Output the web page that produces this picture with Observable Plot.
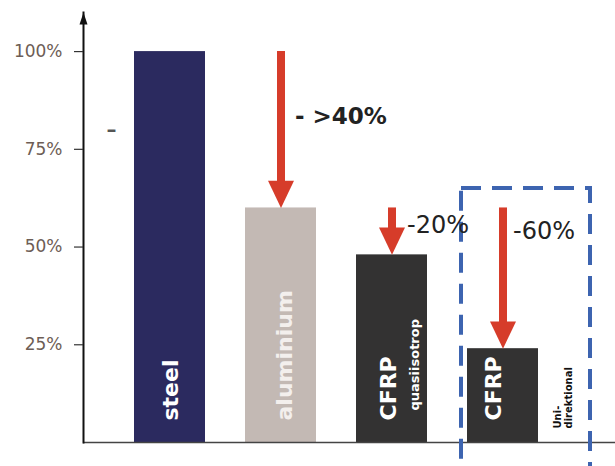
<!DOCTYPE html>
<html>
<head>
<meta charset="utf-8">
<script src="https://cdn.jsdelivr.net/npm/d3@7"></script>
<script src="https://cdn.jsdelivr.net/npm/@observablehq/plot@0.6"></script>
<style>
  html, body { margin: 0; padding: 0; background: #fff; }
  #chart svg { display: block; overflow: visible; }
</style>
</head>
<body>
<div id="chart"></div>
<script>
// ---- data ----
const categories = ["steel", "aluminium", "quasi", "uni"];
const values = [100, 60, 48, 24];
const yTicks = [25, 50, 75, 100];
const tickLabels = ["25%", "50%", "75%", "100%"];
const refLevels = [100, 60];
const refStart = ["steel", "aluminium"];
const arrowCats = ["aluminium", "quasi", "uni"];
const arrowFrom = [100, 60, 60];
const arrowTo = [60, 48, 24];
const arrowLabels = ["- >40%", "-20%", "-60%"];
const barLabels = ["steel", "aluminium", "CFRP", "CFRP"];
const subLabels = ["", "", "quasiisotrop", "Uni-\ndirektional"];
const highlightCat = "uni";
const highlightTop = 65;
const highlightBottom = -8;
const axisTop = 110;

// ---- tables built from arrays ----
const bars = categories.map((c, i) => ({cat: c, value: values[i], label: barLabels[i], sub: subLabels[i]}));
const arrows = arrowCats.map((c, i) => ({cat: c, from: arrowFrom[i], to: arrowTo[i], label: arrowLabels[i]}));
const refs = refLevels.map((v, i) => ({y: v, start: refStart[i]}));

const fills = {steel: "#2b2a5f", aluminium: "#c3b9b4", quasi: "#333232", uni: "#333232"};
const labelColors = {steel: "#ffffff", aluminium: "#f3efed", quasi: "#ffffff", uni: "#ffffff"};
const labelDx = {steel: 1, aluminium: 4, quasi: -3, uni: -9};
const RED = "#d63c2a";
const BLUE = "#3d64b0";
const FONT = "DejaVu Sans";

// custom symbols: tip at the origin
const headDown = {draw(ctx, size) {
  const r = Math.sqrt(size / Math.PI);
  ctx.moveTo(-r, -r * 2.1); ctx.lineTo(r, -r * 2.1); ctx.lineTo(0, 0); ctx.closePath();
}};
const headUp = {draw(ctx, size) {
  const r = Math.sqrt(size / Math.PI);
  ctx.moveTo(0, 0); ctx.lineTo(-r, r * 3); ctx.lineTo(r, r * 3); ctx.closePath();
}};

const barLabelMarks = bars.map(b => Plot.text([b], {x: "cat", y: 0, text: "label", rotate: -90,
  textAnchor: "start", dx: labelDx[b.cat], dy: -22, fontFamily: FONT, fontWeight: "bold",
  fontSize: 22, letterSpacing: 0.8, fill: labelColors[b.cat]}));

const chart = Plot.plot({
  width: 615,
  height: 466,
  marginLeft: 83,
  marginRight: 0,
  marginTop: 12,
  marginBottom: 24,
  style: {background: "#fff", fontFamily: FONT},
  x: {domain: categories, type: "band", paddingInner: 0.357, paddingOuter: 0.5536, align: 0.403, axis: null},
  y: {domain: [0, axisTop], axis: null},
  marks: [
    // dashed reference lines
    Plot.ruleY(refs, {y: "y", x1: "start", stroke: "#333", strokeWidth: 1, strokeDasharray: "5,3"}),
    // bars
    Plot.barY(bars, {x: "cat", y: "value", fill: d => fills[d.cat]}),
    // baseline
    Plot.ruleY([0], {stroke: "#444", strokeWidth: 1.5}),
    // y axis line + arrowhead
    Plot.frame({anchor: "left", stroke: "#111", strokeWidth: 2}),
    Plot.dot([axisTop], {y: d => d, frameAnchor: "left", symbol: headUp, r: 4, fill: "#111", stroke: "none"}),
    // ticks and labels
    Plot.axisY({ticks: yTicks, tickFormat: d => tickLabels[yTicks.indexOf(d)], tickSize: 9, tickPadding: 12,
      fontSize: 17, fontFamily: FONT, fill: "#6d5d55", stroke: "#333", strokeWidth: 1.2, label: null}),
    Plot.text(["–"], {text: d => d, y: 80, frameAnchor: "left", dx: 23, fontSize: 20, fontWeight: "bold", fill: "#555"}),
    // blue dashed highlight box
    Plot.barY([highlightCat], {x: d => d, y1: highlightBottom, y2: highlightTop, fill: "none",
      stroke: BLUE, strokeWidth: 4, strokeDasharray: "20,11", insetLeft: -6, insetRight: -52}),
    // red arrows
    Plot.ruleX(arrows, {x: "cat", y1: "from", y2: "to", stroke: RED, strokeWidth: 8, insetBottom: 14}),
    Plot.dot(arrows, {x: "cat", y: "to", symbol: headDown, r: 13, fill: RED, stroke: "none"}),
    // arrow labels
    Plot.text(arrows.slice(0, 1), {x: "cat", y: "from", text: "label", textAnchor: "start", dx: 14, dy: 65,
      fontFamily: FONT, fontWeight: "bold", fontSize: 23, fill: "#222"}),
    Plot.text(arrows.slice(1, 2), {x: "cat", y: "from", text: "label", textAnchor: "start", dx: 15, dy: 17,
      fontFamily: FONT, fontSize: 24, fill: "#222", letterSpacing: 1}),
    Plot.text(arrows.slice(2, 3), {x: "cat", y: "from", text: "label", textAnchor: "start", dx: 10, dy: 23,
      fontFamily: FONT, fontSize: 24, fill: "#222", letterSpacing: 3}),
    // bar labels (rotated)
    ...barLabelMarks,
    Plot.text(bars.filter(d => d.cat === "quasi"), {x: "cat", y: 0, text: "sub", rotate: -90, textAnchor: "start",
      dy: -32, dx: 23, fontFamily: FONT, fontWeight: "bold", fontSize: 13, fill: "#fff"}),
    Plot.text(bars.filter(d => d.cat === "uni"), {x: "cat", y: 0, text: "sub", rotate: -90, textAnchor: "start",
      dy: -14, dx: 60, fontFamily: FONT, fontWeight: "bold", fontSize: 10, lineHeight: 1.15, fill: "#111"})
  ]
});
document.getElementById("chart").appendChild(chart);
</script>
</body>
</html>
